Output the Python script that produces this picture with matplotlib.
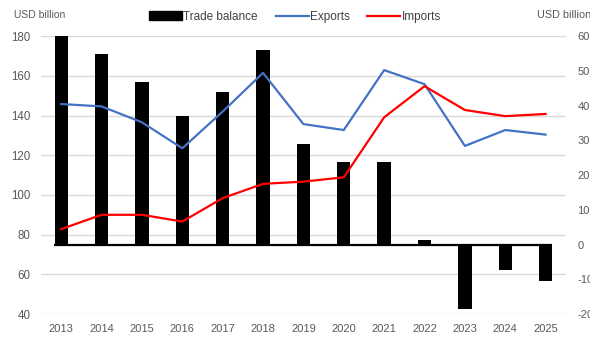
import matplotlib
matplotlib.use("Agg")
import matplotlib.pyplot as plt
from matplotlib.patches import Patch
from matplotlib.lines import Line2D

years = ["2013", "2014", "2015", "2016", "2017", "2018", "2019",
         "2020", "2021", "2022", "2023", "2024", "2025"]
trade_balance = [60.0, 55.0, 46.8, 37.1, 44.0, 56.1, 28.9, 23.8, 23.8, 1.2, -18.4, -7.2, -10.4]
exports = [145.8, 144.6, 136.6, 123.5, 142.0, 161.5, 135.7, 132.7, 162.9, 155.8, 124.7, 132.7, 130.4]
imports = [82.8, 90.0, 90.0, 86.6, 98.4, 105.6, 106.7, 108.9, 139.1, 154.8, 142.8, 139.7, 140.8]
left_ticks = [40, 60, 80, 100, 120, 140, 160, 180]
right_ticks = [-20, -10, 0, 10, 20, 30, 40, 50, 60]

plt.rcParams['font.family'] = ['Liberation Sans', 'DejaVu Sans']
plt.rcParams['axes.unicode_minus'] = False
gray = "#595959"

fig = plt.figure(figsize=(5.9, 3.41), dpi=100)
ax = fig.add_axes([0.0695, 0.079, 0.8895, 0.815])
ax2 = ax.twinx()
ax.set_zorder(2)
ax.patch.set_visible(False)

x = list(range(len(years)))

# bars on right axis
ax2.bar(x, trade_balance, width=0.33, color="black", zorder=2)
ax2.hlines(0, -0.17, len(years) - 1 + 0.17, color="black", lw=1.6, zorder=3)
# gridlines following the left axis, drawn behind bars
for t in left_ticks:
    ax2.plot([-0.5, len(years) - 0.5], [t, t], transform=ax.transData,
             color="#d9d9d9", lw=1.0, zorder=0)

ax.plot(x, exports, color="#4472C4", lw=1.6)
ax.plot(x, imports, color="#FF0000", lw=1.6)

ax.set_xlim(-0.5, len(years) - 0.5)
ax.set_ylim(40, 180)
ax2.set_ylim(-20, 60)
ax.set_yticks(left_ticks)
ax2.set_yticks(right_ticks)
ax.set_xticks(x)
ax.set_xticklabels(years)

for a in (ax, ax2):
    for s in a.spines.values():
        s.set_visible(False)
ax.tick_params(axis='y', length=0, pad=7.5, labelsize=8.3, labelcolor=gray)
ax.tick_params(axis='x', length=0, pad=7, labelsize=8, labelcolor=gray)
ax2.tick_params(axis='y', length=0, pad=8.3, labelsize=8, labelcolor=gray)

fig.text(14 / 590, 1 - 15 / 341, "USD billion", fontsize=7.5, color=gray,
         ha="left", va="center")
fig.text(537 / 590, 1 - 15 / 341, "USD billion", fontsize=7.8, color=gray,
         ha="left", va="center")

handles = [Patch(facecolor="black", edgecolor="black"),
           Line2D([], [], color="#4472C4", lw=1.6),
           Line2D([], [], color="#FF0000", lw=1.6)]
labels = ["Trade balance", "Exports", "Imports"]
leg = fig.legend(handles, labels, loc="center", bbox_to_anchor=(295 / 590, 1 - 17 / 341),
                 ncol=3, frameon=False, fontsize=8.5, handlelength=2.8,
                 handleheight=0.8, handletextpad=0.1, columnspacing=1.5, borderaxespad=0)
for t in leg.get_texts():
    t.set_color("#404040")

fig.savefig("out.png", dpi=100)
